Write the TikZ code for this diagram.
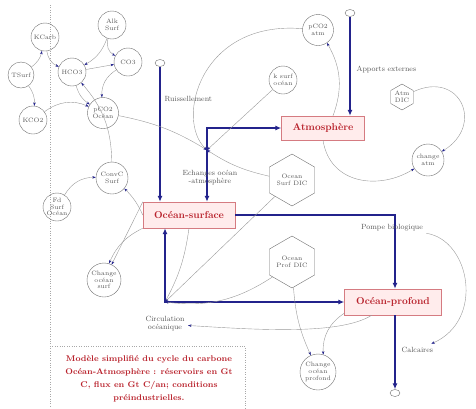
\documentclass[tikz,border=0pt]{standalone}
\usepackage{tikz}
\usetikzlibrary{arrows.meta,positioning,calc,shapes.geometric}
\definecolor{navy}{RGB}{35,35,140}
\definecolor{brick}{RGB}{185,35,45}
\definecolor{blush}{RGB}{255,236,236}
\definecolor{pen}{RGB}{110,110,110}

\begin{document}
\begin{tikzpicture}[x=1pt,y=-1pt,font=\fontsize{6.3}{6.8}\selectfont,
  aux/.style={circle,draw=pen,text=pen!80!black,align=center,inner sep=0pt,minimum size=28pt},
  hexa/.style={regular polygon,regular polygon sides=6,shape border rotate=30,draw=pen,text=pen!80!black,align=center,inner sep=0pt,minimum size=26pt},
  stock/.style={draw=brick!60,fill=blush,text=brick,font=\bfseries\fontsize{10}{11}\selectfont},
  cloud/.style={ellipse,draw=pen,fill=white,minimum width=10pt,minimum height=7pt,inner sep=0pt},
  flow/.style={draw=navy,line width=1.8pt,-{Latex[length=6pt,width=5pt]}},
  both/.style={{Latex[length=6pt,width=5pt]}-{Latex[length=6pt,width=5pt]}},
  link/.style={draw=pen!70,line width=0.4pt,-{Stealth[length=3.5pt,width=2.5pt,color=navy]}},
  lbl/.style={text=pen!80!black,font=\fontsize{7.5}{8}\selectfont}]
\useasboundingbox (0,0) rectangle (476,408);
% cadre pointille
\draw[dotted,pen!60] (50,5) -- (50,408);
\draw[dotted,pen!60] (50,346) -- (245,346) -- (245,408);
% chimie des carbonates
\node[aux] (kcarb) at (45,37) {KCarb};
\node[aux] (alk) at (112,25) {Alk\\Surf};
\node[aux] (hco) at (72,72) {HCO3};
\node[aux] (co) at (128,62) {CO3};
\node[aux,minimum size=26pt] (tsurf) at (21,75) {TSurf};
\node[aux] (kco) at (33,120) {KCO2};
\node[aux,minimum size=31pt] (pco) at (103,113) {pCO2\\Océan};
\node[aux,minimum size=32pt] (convc) at (112,178) {ConvC\\Surf};
\node[aux] (fd) at (57,207) {Fd\\Surf\\Océan};
\node[aux,minimum size=34pt] (chos) at (104,280) {Change\\océan\\surf};
% atmosphere
\node[aux,minimum size=31pt] (pcoa) at (318,30) {pCO2\\atm};
\node[aux] (ksurf) at (283,80) {k surf\\océan};
\node[hexa] (atmdic) at (402,97) {Atm\\DIC};
\node[aux,minimum size=32pt] (chatm) at (428,160) {change\\atm};
% ocean
\node[hexa,minimum size=52pt] (osdic) at (292,180) {Ocean\\Surf DIC};
\node[hexa,minimum size=52pt] (opdic) at (292,262) {Ocean\\Prof DIC};
\node[aux,minimum size=36pt] (chop) at (318,372) {Change\\océan\\profond};
% reservoirs
\node[stock,minimum width=83pt,minimum height=24pt] (atmo) at (323,128) {Atmosphère};
\node[stock,minimum width=92pt,minimum height=26pt] (osurf) at (189,215) {Océan-surface};
\node[stock,minimum width=97pt,minimum height=26pt] (oprof) at (393,302) {Océan-profond};
% sources et puits
\node[cloud] (cruis) at (160,63) {};
\node[cloud] (capp) at (350,13) {};
\node[cloud] (ccalc) at (395,393) {};
\coordinate (vech) at (207,150);
\coordinate (vpompe) at (395,215);
\coordinate (vcirc) at (165,302);
% flux
\draw[flow] (cruis) -- (cruis |- osurf.north);
\draw[flow] (capp) -- (capp |- atmo.north);
\draw[flow,both] (vech |- osurf.north) -- (vech |- atmo.west) -- (atmo.west);
\draw[flow] (osurf.east) -- (vpompe |- osurf.east) -- (vpompe |- oprof.north);
\draw[flow] (oprof.south -| ccalc) -- (ccalc);
\draw[flow,both] (osurf.south -| vcirc) -- (vcirc) -- (oprof.west);
% noms des flux
\node[lbl,anchor=west] (lruis) at (161,99) {Ruissellement};
\node[lbl,anchor=west] (lapp) at (353,70) {Apports externes};
\node[lbl,anchor=west] (lcalc) at (398,350) {Calcaires};
\node[lbl] (lpompe) at (392,228) {Pompe biologique};
\node[lbl,align=center] (lech) at (210,178) {Echanges océan\\-atmosphère};
\node[lbl,align=center] (lcirc) at (165,324) {Circulation\\océanique};
% liens
\draw[link] (alk) to[bend left=20] (hco);
\draw[link] (kcarb) to[bend right=30] (hco);
\draw[link] (alk) to[bend right=40] (co);
\draw[link] (hco) -- (co);
\draw[link] (hco) to[bend right=20] (pco);
\draw[link] (co) to[bend right=30] (pco);
\draw[link] (tsurf) to[bend right=20] (kcarb);
\draw[link] (tsurf) to[bend left=20] (kco);
\draw[link] (kco) to[bend left=30] (pco);
\draw[link] (convc) to[bend right=20] (hco);
\draw[link] (fd) to[bend left=30] (convc);
\draw[link] (osurf.west) to[bend right=10] (convc);
\draw[link] (osurf.north west) -- (chos);
\draw[link] (osurf.south west) to[bend right=20] (chos);
\draw[link] (pco) to[bend left=10] (vech);
\draw[link] (pcoa) .. controls (200,20) and (175,120) .. (vech);
\draw[link] (ksurf) -- (vech);
\draw[link] (osdic) to[bend left=10] (vech);
\draw[link] ($(atmo.north)+(10,0)$) to[bend right=25] (pcoa);
\draw[link] (atmdic) .. controls (460,70) and (485,125) .. (chatm);
\draw[link] (atmo.south) .. controls (330,185) and (380,190) .. (chatm);
\draw[link] (osdic) -- (vcirc);
\draw[link] (opdic) to[bend left=20] (vcirc);
\draw[link] (osurf.south) to[bend left=10] (vcirc);
\draw[link] (oprof) .. controls (340,335) and (260,330) .. (lcirc);
\draw[link] (oprof) to[bend right=30] (chop);
\draw[link] (opdic) to[bend right=10] (chop);
\draw[link] (lpompe) .. controls (470,240) and (485,320) .. (lcalc);
% legende
\node[text=brick,font=\bfseries\fontsize{8.3}{12.8}\selectfont,align=center] (legende) at (149,379)
  {Modèle simplifié du cycle du carbone\\Océan-Atmosphère : réservoirs en Gt\\C, flux en Gt C/an; conditions\\préindustrielles.};
\end{tikzpicture}
\end{document}
